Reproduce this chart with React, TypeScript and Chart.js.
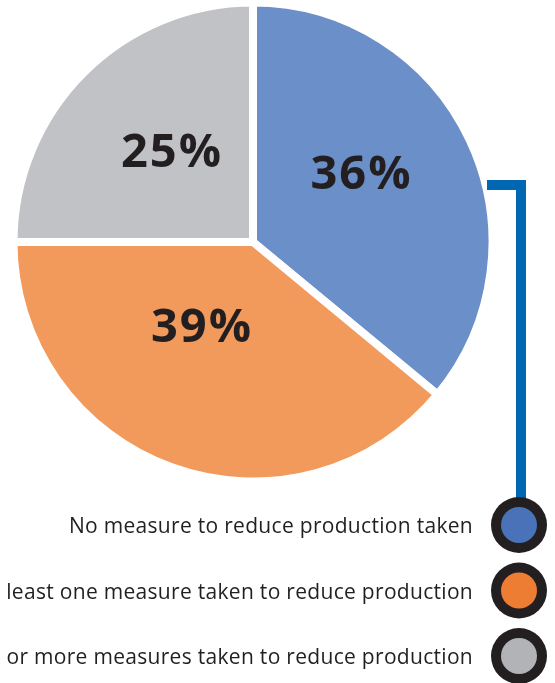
import React, { useEffect, useRef } from "react";
import { Chart, registerables } from "chart.js";

Chart.register(...registerables);

// ---- data ----
const categories = [
  "No measure to reduce production taken",
  "At least one measure taken to reduce production",
  "Two or more measures taken to reduce production",
];
const shares = [36, 39, 25];
const shareLabels = ["36%", "39%", "25%"];
const pieColors = ["#6b8fc8", "#f29a5b", "#c1c2c6"];
const legendColors = ["#4a72b8", "#ed7d32", "#b1b3b6"];

// ---- style / placement (not data) ----
const TEXT = "#231f20";
const LABEL_PLACE = [
  { angle: 57, r: 0.535 },
  { angle: 212, r: 0.41 },
  { angle: 318, r: 0.512 },
];

const overlay = {
  id: "overlay",
  afterDatasetsDraw(chart: any) {
    const ctx = chart.ctx as any;
    const meta = chart.getDatasetMeta(0);
    ctx.save();
    // percentage labels
    ctx.fillStyle = TEXT;
    ctx.textAlign = "center";
    ctx.textBaseline = "alphabetic";
    const fs = 47;
    ctx.font = `bold ${fs}px "Open Sans"`;
    ctx.letterSpacing = "2px";
    meta.data.forEach((arc: any, i: number) => {
      const { x, y, outerRadius } = arc.getProps(["x", "y", "outerRadius"], true);
      const p = LABEL_PLACE[i];
      const a = ((p.angle - 90) * Math.PI) / 180;
      const lx = x + Math.cos(a) * p.r * outerRadius;
      const ly = y + Math.sin(a) * p.r * outerRadius;
      ctx.fillText(shareLabels[i], lx + 1, ly + 16.5);
    });

    // legend
    const cx = 519;
    const cy0 = 525;
    const step = 65.5;

    // connector line from blue slice to first legend marker
    ctx.strokeStyle = "#0068b3";
    ctx.lineWidth = 10;
    ctx.lineJoin = "miter";
    ctx.lineCap = "butt";
    ctx.beginPath();
    ctx.moveTo(487, 185);
    ctx.lineTo(521, 185);
    ctx.lineTo(521, cy0 - 10);
    ctx.stroke();

    ctx.textAlign = "right";
    ctx.font = `21px "Open Sans"`;
    ctx.letterSpacing = "0.3px";
    categories.forEach((label, i) => {
      const cy = cy0 + i * step;
      ctx.fillStyle = TEXT;
      ctx.beginPath();
      ctx.arc(cx, cy, 28, 0, Math.PI * 2);
      ctx.fill();
      ctx.fillStyle = legendColors[i];
      ctx.beginPath();
      ctx.arc(cx, cy, 18, 0, Math.PI * 2);
      ctx.fill();
      ctx.fillStyle = TEXT;
      ctx.fillText(label, 473, cy + 8);
    });
    ctx.restore();
  },
};

export default function App() {
  const ref = useRef<HTMLCanvasElement>(null);
  useEffect(() => {
    if (!ref.current) return;
    const chart = new Chart(ref.current, {
      type: "pie",
      data: {
        labels: categories,
        datasets: [
          {
            data: shares,
            backgroundColor: pieColors,
            borderColor: "#ffffff",
            borderWidth: 8,
          },
        ],
      },
      options: {
        responsive: false,
        animation: false,
        devicePixelRatio: 1,
        radius: 239.5,
        layout: { padding: { left: 0, right: 49, top: 0, bottom: 199 } },
        plugins: {
          legend: { display: false },
          tooltip: { enabled: false },
        },
      } as any,
      plugins: [overlay],
    });
    return () => chart.destroy();
  }, []);
  return (
    <div style={{ position: "absolute", left: 0, top: 0, width: 555, height: 683, background: "#fff" }}>
      <canvas ref={ref} width={555} height={683} style={{ display: "block" }} />
    </div>
  );
}
